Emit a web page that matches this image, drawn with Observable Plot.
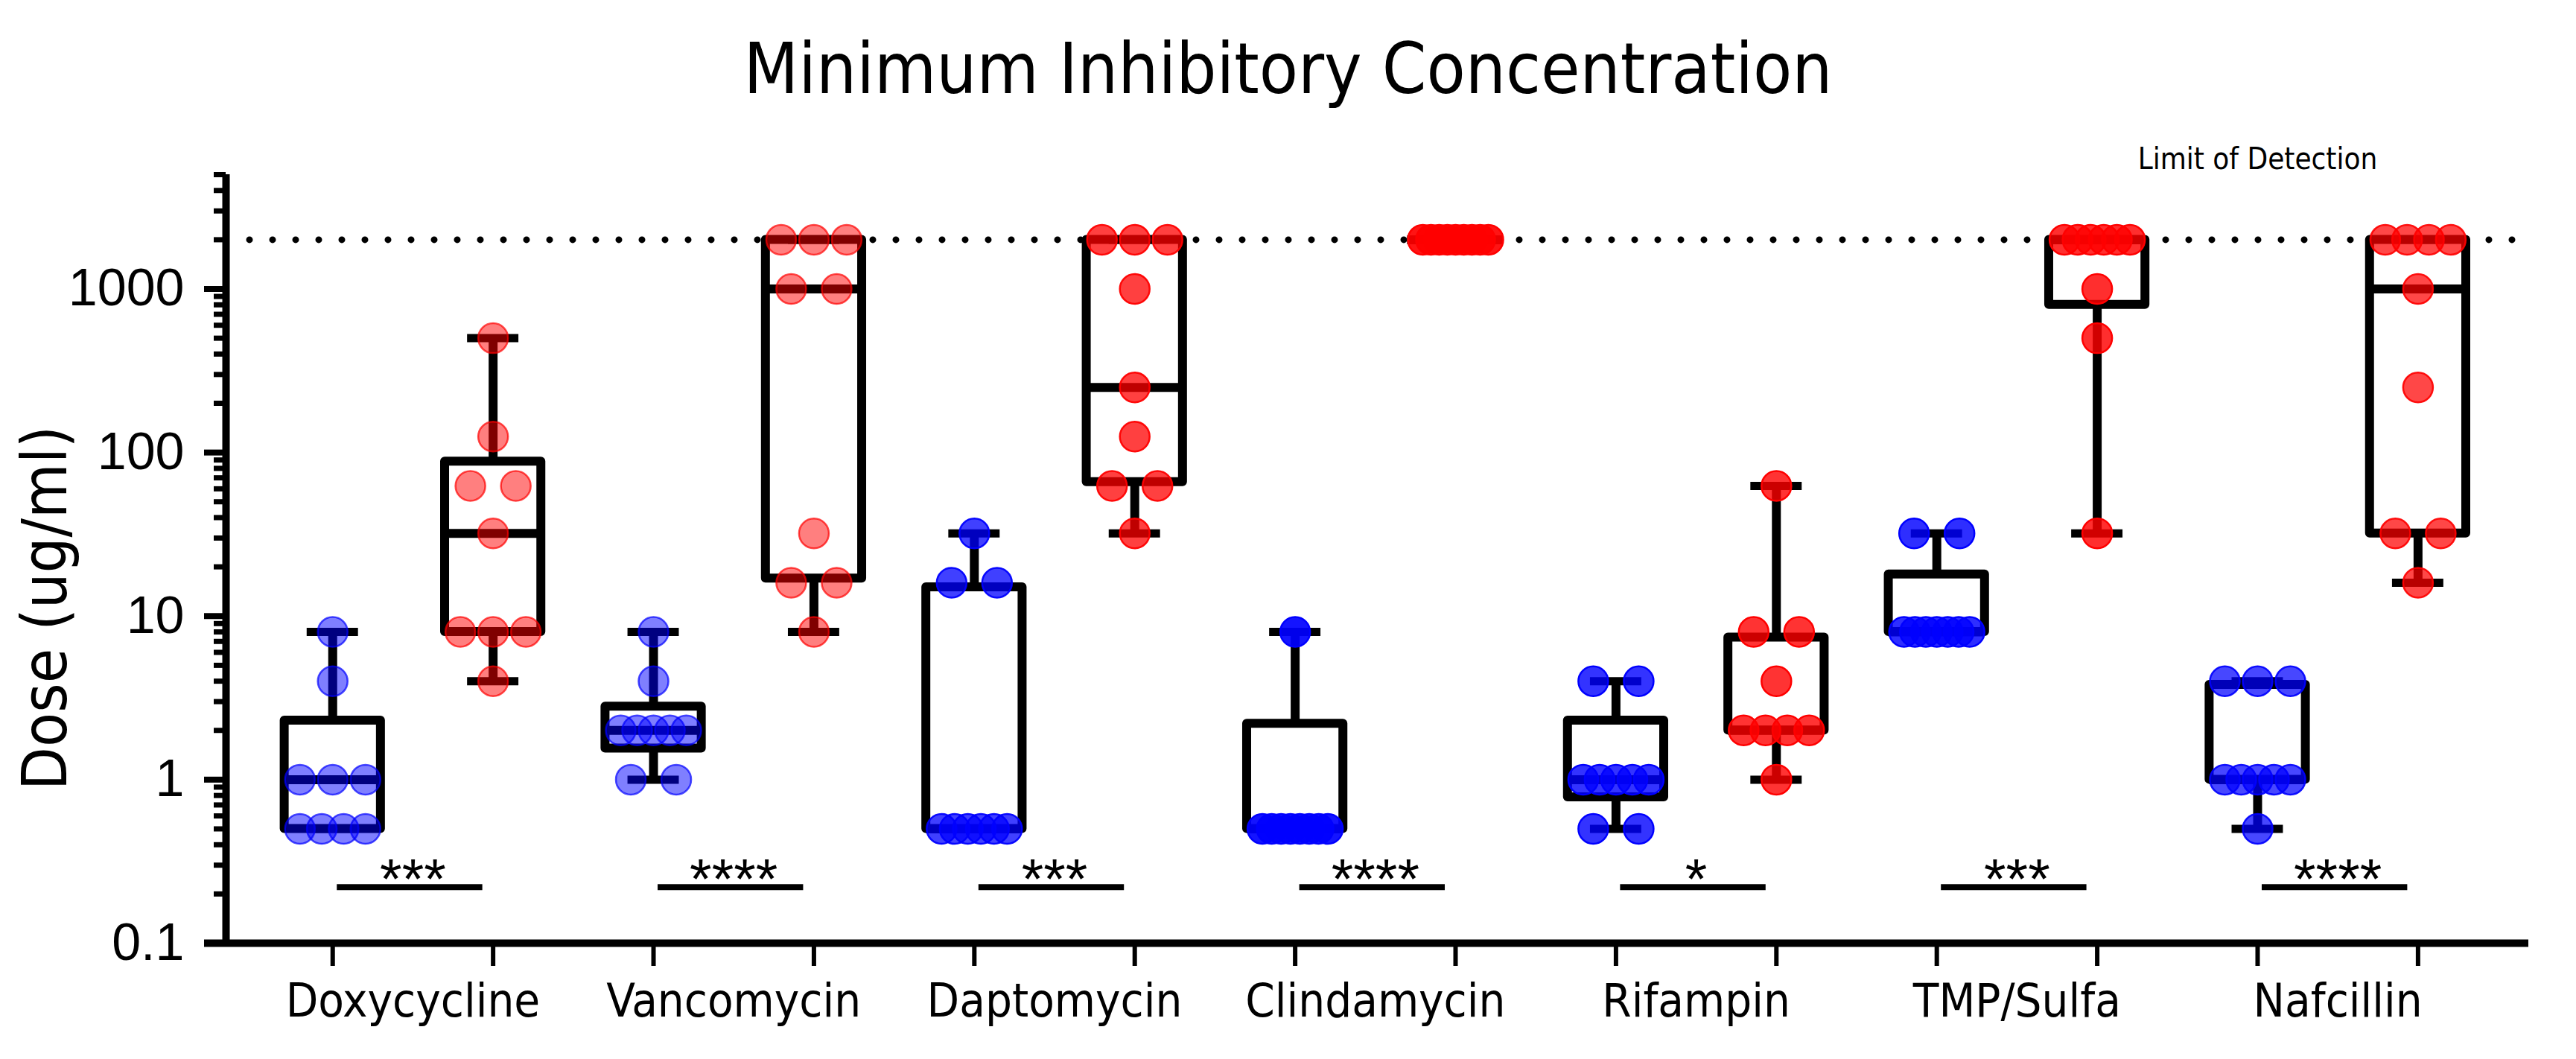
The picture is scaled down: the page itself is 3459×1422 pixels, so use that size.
<!DOCTYPE html>
<html>
<head>
<meta charset="utf-8">
<script src="https://cdn.jsdelivr.net/npm/d3@7"></script>
<script src="https://cdn.jsdelivr.net/npm/@observablehq/plot@0.6"></script>
<style>
  body { margin: 0; background: #fff; }
  #title {
    width: 3459px; height: 120px; padding-top: 45px; margin: 0;
    text-align: center; line-height: 1;
    font-family: 'Liberation Sans Narrow', 'DejaVu Sans Condensed', sans-serif;
    font-size: 95px; font-weight: normal; color: #000;
  }
</style>
</head>
<body>
<div id="title">Minimum Inhibitory Concentration</div>
<div id="chart"></div>
<script>
// ---------------- data ----------------
const drugs = ["Doxycycline", "Vancomycin", "Daptomycin", "Clindamycin", "Rifampin", "TMP/Sulfa", "Nafcillin"];

// MIC (ug/ml) of each isolate, blue group (left of each pair)
const blueMIC = [
  [8, 4, 1, 1, 1, 0.5, 0.5, 0.5, 0.5],
  [8, 4, 2, 2, 2, 2, 2, 1, 1],
  [32, 16, 16, 0.5, 0.5, 0.5, 0.5, 0.5, 0.5],
  [8, 0.5, 0.5, 0.5, 0.5, 0.5, 0.5, 0.5, 0.5],
  [4, 4, 1, 1, 1, 1, 1, 0.5, 0.5],
  [32, 32, 8, 8, 8, 8, 8, 8, 8],
  [4, 4, 4, 1, 1, 1, 1, 1, 0.5]
];
// MIC (ug/ml) of each isolate, red group (right of each pair)
const redMIC = [
  [500, 125, 62.5, 62.5, 32, 8, 8, 8, 4],
  [2000, 2000, 2000, 1000, 1000, 32, 16, 16, 8],
  [2000, 2000, 2000, 1000, 250, 125, 62.5, 62.5, 32],
  [2000, 2000, 2000, 2000, 2000, 2000, 2000, 2000, 2000],
  [62.5, 8, 8, 4, 2, 2, 2, 2, 1],
  [2000, 2000, 2000, 2000, 2000, 2000, 1000, 500, 32],
  [2000, 2000, 2000, 2000, 1000, 250, 32, 32, 16]
];

// box statistics: [min, q1, median, q3, max]
const blueBox = [
  [0.5, 0.5, 1, 2.3, 8],
  [1, 1.55, 2, 2.8, 8],
  [0.5, 0.5, 0.5, 15, 32],
  [0.5, 0.5, 0.5, 2.2, 8],
  [0.5, 0.78, 1, 2.3, 4],
  [8, 8, 8, 18, 32],
  [0.5, 1, 1, 3.8, 4]
];
const redBox = [
  [4, 8, 32, 88, 500],
  [8, 17, 1000, 2000, 2000],
  [32, 66, 250, 2000, 2000],
  [2000, 2000, 2000, 2000, 2000],
  [1, 2, 2, 7.4, 62.5],
  [32, 800, 2000, 2000, 2000],
  [16, 32, 1000, 2000, 2000]
];

const significance = ["***", "****", "***", "****", "*", "***", "****"];
const limitOfDetection = 2000;
const sigBarLevel = 0.22;

const yMajorTicks = [0.1, 1, 10, 100, 1000];
const yDomain = [0.1, 5000];

// ---------------- layout / style ----------------
const W = 3459, H = 1257;
const mL = 303, mR = 64, mT = 69, mB = 156;
const xDomain = [-0.665, 13.69];
const pxPerSlot = (W - mL - mR) / (xDomain[1] - xDomain[0]);
const boxHalf = 0.3, capHalf = 0.16;
const dotOpacity = [0.5, 0.5, 0.75, 0.92, 0.8, 0.82, 0.72];
const BLUE = "#0000ff", RED = "#ff0000";
const narrow = "'Liberation Sans Narrow', 'DejaVu Sans Condensed', sans-serif";
const regular = "'Liberation Sans', Arial, sans-serif";

// minor ticks of log axis
const yMinorTicks = [];
for (const d of yMajorTicks) for (let m = 2; m <= 9; m++) { const v = d * m; if (v <= yDomain[1] + 1e-9) yMinorTicks.push(v); }

// ---------------- tables ----------------
function spreadRows(values, slot, drug, group) {
  const counts = d3.rollup(values, v => v.length, v => v);
  const seen = new Map();
  return values.map(v => {
    const k = counts.get(v);
    const j = seen.get(v) || 0; seen.set(v, j + 1);
    const span = Math.min(61 * (k - 1), 88);
    const step = k > 1 ? span / (k - 1) : 0;
    const off = (j - (k - 1) / 2) * step / pxPerSlot;
    return {drug, group, mic: v, x: slot + off};
  });
}
const points = [];
const boxes = [];
drugs.forEach((name, i) => {
  points.push(...spreadRows(blueMIC[i], 2 * i, i, "blue"));
  points.push(...spreadRows(redMIC[i], 2 * i + 1, i, "red"));
  const [a, b, c, d, e] = blueBox[i];
  boxes.push({slot: 2 * i, min: a, q1: b, med: c, q3: d, max: e});
  const [f, g, h, k, l] = redBox[i];
  boxes.push({slot: 2 * i + 1, min: f, q1: g, med: h, q3: k, max: l});
});
const sig = drugs.map((d, i) => ({s: 2 * i, r: 2 * i + 1, mid: 2 * i + 0.5, stars: significance[i]}));

// ---------------- marks ----------------
const dotMarks = [];
drugs.forEach((name, i) => {
  const op = dotOpacity[i];
  for (const [grp, col] of [["blue", BLUE], ["red", RED]]) {
    dotMarks.push(Plot.dot(points.filter(p => p.drug === i && p.group === grp), {
      x: "x", y: "mic", r: 20, fill: col, fillOpacity: op,
      stroke: col, strokeOpacity: Math.min(1, op + 0.2), strokeWidth: 2.5
    }));
  }
});

const chart = Plot.plot({
  width: W, height: H,
  marginLeft: mL, marginRight: mR, marginTop: mT, marginBottom: mB,
  style: {fontFamily: regular, background: "#fff", color: "#000", overflow: "visible"},
  x: {domain: xDomain},
  y: {type: "log", domain: yDomain},
  marks: [
    // limit of detection dotted line
    Plot.ruleY([limitOfDetection], {stroke: "#000", strokeWidth: 9, strokeDasharray: "0,31", strokeLinecap: "round", insetLeft: 32}),
    // whiskers
    Plot.ruleX(boxes, {x: "slot", y1: "min", y2: "q1", stroke: "#000", strokeWidth: 12}),
    Plot.ruleX(boxes, {x: "slot", y1: "q3", y2: "max", stroke: "#000", strokeWidth: 12}),
    // caps
    Plot.ruleY(boxes, {y: "min", x1: d => d.slot - capHalf, x2: d => d.slot + capHalf, stroke: "#000", strokeWidth: 11}),
    Plot.ruleY(boxes, {y: "max", x1: d => d.slot - capHalf, x2: d => d.slot + capHalf, stroke: "#000", strokeWidth: 11}),
    // boxes
    Plot.rect(boxes, {x1: d => d.slot - boxHalf, x2: d => d.slot + boxHalf, y1: "q1", y2: "q3",
      fill: "none", stroke: "#000", strokeWidth: 12, strokeLinejoin: "round"}),
    // medians
    Plot.ruleY(boxes, {y: "med", x1: d => d.slot - boxHalf, x2: d => d.slot + boxHalf, stroke: "#000", strokeWidth: 12}),
    ...dotMarks,
    // significance
    Plot.ruleY(sig, {y: () => sigBarLevel, x1: "s", x2: "r", insetLeft: 6, insetRight: 14, stroke: "#000", strokeWidth: 8}),
    Plot.text(sig, {x: "mid", y: () => sigBarLevel, text: "stars", fontSize: 76, fontFamily: regular, lineAnchor: "bottom", dy: 15}),
    // axis lines
    Plot.ruleX([xDomain[0]], {y1: yDomain[0], y2: yDomain[1], stroke: "#000", strokeWidth: 10}),
    Plot.ruleY([yDomain[0]], {stroke: "#000", strokeWidth: 10, insetLeft: -29}),
    // y axis
    Plot.axisY({ticks: yMinorTicks, tickSize: 16, tickFormat: () => "", strokeWidth: 7, label: null}),
    Plot.axisY({ticks: yMajorTicks, tickSize: 29, tickPadding: 27, strokeWidth: 8, fontSize: 70,
      fontFamily: regular, tickFormat: d => String(d), label: null}),
    // x axis
    Plot.axisX({ticks: d3.range(drugs.length * 2), tickSize: 31, tickFormat: () => "", strokeWidth: 6, label: null}),
    Plot.axisX({ticks: drugs.map((d, i) => 2 * i + 0.5), tickSize: 0, tickPadding: 54, fontSize: 63,
      fontFamily: narrow, tickFormat: d => drugs[Math.round((d - 0.5) / 2)], label: null}),
    // y label
    Plot.text(["Dose (ug/ml)"], {frameAnchor: "left", rotate: -90, dx: -241, dy: 66, fontSize: 84,
      fontFamily: narrow, textAnchor: "middle", lineAnchor: "middle"}),
    // LOD annotation
    Plot.text(["Limit of Detection"], {x: () => 2 * (drugs.length - 1), y: () => limitOfDetection, dy: -108,
      fontSize: 40, fontFamily: narrow, textAnchor: "middle", lineAnchor: "middle", ariaLabel: "lod"})
  ]
});
document.getElementById("chart").appendChild(chart);
d3.select(chart).selectAll('g[aria-label="lod"] text').style("letter-spacing", "-1px");
</script>
</body>
</html>
